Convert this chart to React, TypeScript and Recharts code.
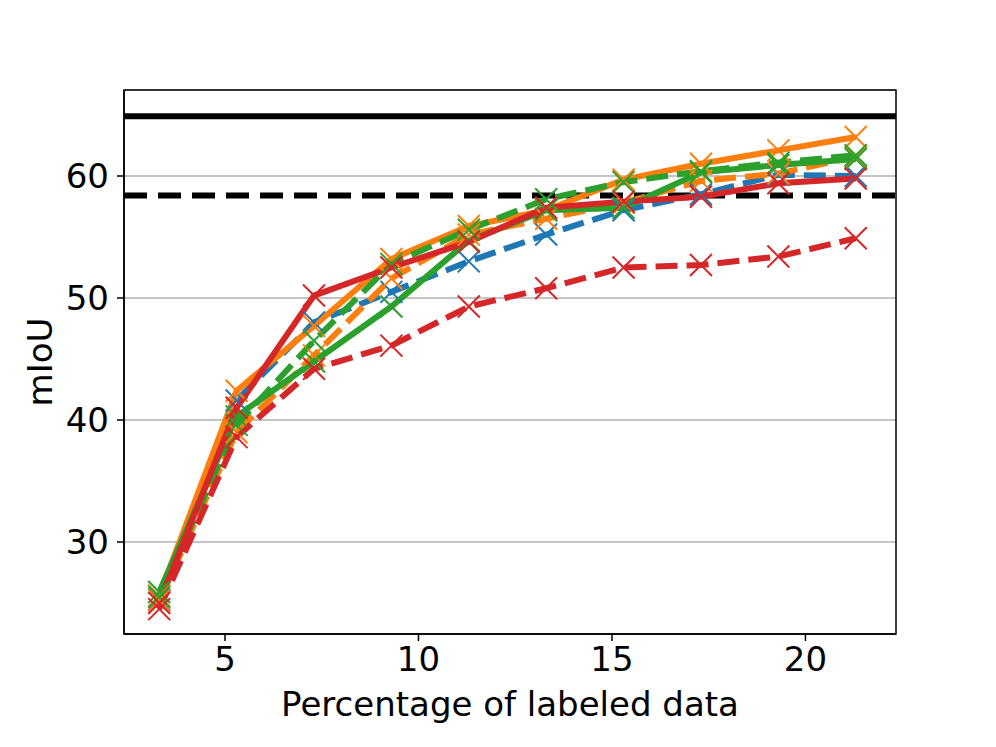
import { LineChart, Line, XAxis, YAxis, CartesianGrid, ReferenceLine, ReferenceArea } from "recharts";

const xs = [3.3, 5.3, 7.3, 9.3, 11.3, 13.3, 15.3, 17.3, 19.3, 21.3];
const blueDashed = [25.3, 41.6, 48.0, 50.5, 53.0, 55.2, 57.2, 58.5, 60.1, 60.0];
const orangeSolid = [25.6, 42.4, 47.7, 53.2, 55.9, 57.2, 59.7, 61.0, 62.1, 63.2];
const orangeDashed = [25.2, 39.0, 45.3, 51.6, 55.2, 56.5, 57.8, 59.6, 60.2, 61.6];
const greenSolid = [25.9, 40.3, 44.8, 49.3, 54.7, 57.2, 57.4, 60.3, 60.9, 61.4];
const greenDashed = [25.5, 39.6, 46.5, 52.8, 55.6, 58.1, 59.5, 60.4, 61.1, 61.7];
const redSolid = [25.0, 41.0, 50.2, 52.5, 54.6, 57.4, 57.9, 58.3, 59.4, 59.8];
const redDashed = [24.5, 38.6, 44.2, 46.1, 49.3, 50.8, 52.5, 52.7, 53.4, 54.9];

const fullLine = 64.9;
const halfLine = 58.4;

const xTicks = [5, 10, 15, 20];
const yTicks = [30, 40, 50, 60];

const data = xs.map((x, i) => ({
  x,
  blueDashed: blueDashed[i],
  orangeSolid: orangeSolid[i],
  orangeDashed: orangeDashed[i],
  greenSolid: greenSolid[i],
  greenDashed: greenDashed[i],
  redSolid: redSolid[i],
  redDashed: redDashed[i],
}));

const series = [
  { key: "blueDashed", color: "#1f77b4", dashed: true },
  { key: "orangeSolid", color: "#ff7f0e", dashed: false },
  { key: "orangeDashed", color: "#ff7f0e", dashed: true },
  { key: "greenSolid", color: "#2ca02c", dashed: false },
  { key: "greenDashed", color: "#2ca02c", dashed: true },
  { key: "redSolid", color: "#d62728", dashed: false },
  { key: "redDashed", color: "#d62728", dashed: true },
];

const font = "DejaVu Sans";

function crossDot(color: string) {
  return (props: any) => {
    const { cx, cy, index } = props;
    if (cx == null || cy == null) return <g key={index} />;
    const s = 11;
    return (
      <path
        key={index}
        d={`M${cx - s},${cy - s}L${cx + s},${cy + s}M${cx - s},${cy + s}L${cx + s},${cy - s}`}
        stroke={color}
        strokeWidth={2}
        fill="none"
      />
    );
  };
}

export default function App() {
  const tickStyle = { fill: "#000", fontSize: 34, fontFamily: font };
  return (
    <div style={{ position: "absolute", left: 0, top: 0, background: "#fff" }}>
      <LineChart width={996} height={747} data={data} margin={{ top: 90, right: 100, bottom: 23, left: 0 }}>
        <CartesianGrid vertical={false} stroke="#b0b0b0" strokeWidth={1.5} />
        <XAxis
          dataKey="x"
          type="number"
          domain={[2.39, 22.34]}
          ticks={xTicks}
          height={90}
          tick={tickStyle}
          tickSize={7}
          tickMargin={6}
          axisLine={{ stroke: "#000", strokeWidth: 1.5 }}
          tickLine={{ stroke: "#000", strokeWidth: 1.5 }}
          label={{ value: "Percentage of labeled data", position: "insideBottom", offset: 8, style: { fill: "#000", fontSize: 34, fontFamily: font } }}
        />
        <YAxis
          type="number"
          domain={[22.46, 67.05]}
          ticks={yTicks}
          width={124}
          tick={tickStyle}
          tickSize={7}
          tickMargin={8}
          axisLine={{ stroke: "#000", strokeWidth: 1.5 }}
          tickLine={{ stroke: "#000", strokeWidth: 1.5 }}
          label={{ value: "mIoU", angle: -90, position: "insideLeft", offset: 40, style: { fill: "#000", fontSize: 34, fontFamily: font, textAnchor: "middle" } }}
        />
        <ReferenceArea x1={2.39} x2={22.34} y1={22.46} y2={67.05} fill="none" stroke="#000" strokeWidth={1.5} fillOpacity={0} />
        <ReferenceLine y={fullLine} stroke="#000" strokeWidth={6} />
        <ReferenceLine y={halfLine} stroke="#000" strokeWidth={6} strokeDasharray="23 11" />
        {series.map((s) => (
          <Line
            key={s.key}
            dataKey={s.key}
            stroke={s.color}
            strokeWidth={6}
            strokeDasharray={s.dashed ? "22 9" : undefined}
            dot={crossDot(s.color)}
            activeDot={false}
            isAnimationActive={false}
          />
        ))}
      </LineChart>
    </div>
  );
}
